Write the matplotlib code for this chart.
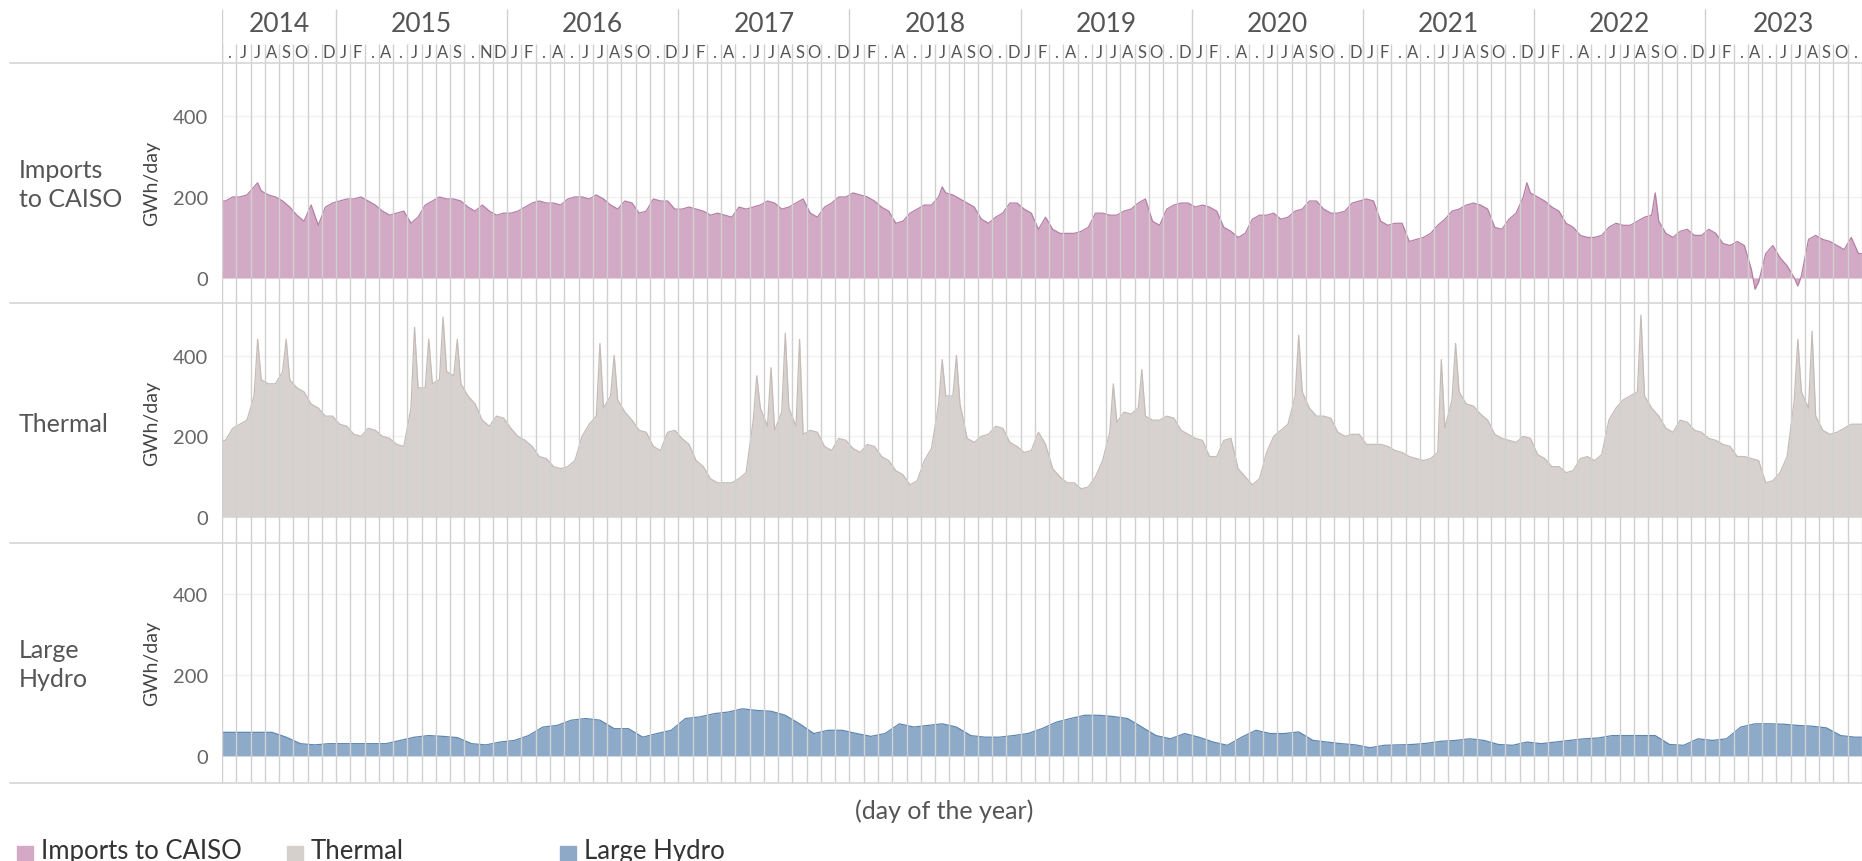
import numpy as np
import matplotlib
matplotlib.use("Agg")
import matplotlib.pyplot as plt
from matplotlib.lines import Line2D

plt.rcParams['font.family'] = ['Lato', 'DejaVu Sans']

# months from May 2014 to Nov 2023 (Tableau header letters, '.' where the label is cut)
years = [2014, 2015, 2016, 2017, 2018, 2019, 2020, 2021, 2022, 2023]
year_months = [8, 12, 12, 12, 12, 12, 12, 12, 12, 11]
month_letters = (['.', 'J', 'J', 'A', 'S', 'O', '.', 'D']
                 + ['J', 'F', '.', 'A', '.', 'J', 'J', 'A', 'S', '.', 'N', 'D']
                 + ['J', 'F', '.', 'A', '.', 'J', 'J', 'A', 'S', 'O', '.', 'D'] * 7
                 + ['J', 'F', '.', 'A', '.', 'J', 'J', 'A', 'S', 'O', '.'])

# GWh/day, two readings per month (first half, second half)
imports = [190, 200, 200, 205, 225, 215, 205, 200, 190, 175, 155, 140, 180, 130, 175, 185,
           190, 195, 195, 200, 190, 180, 165, 155, 160, 165, 135, 150, 180, 190, 200, 195,
           195, 190, 175, 165, 180, 165, 155, 160, 160, 165, 175, 185, 190, 185, 185, 180,
           195, 200, 200, 195, 205, 195, 180, 170, 190, 185, 160, 165, 195, 190, 190, 170,
           170, 175, 170, 165, 155, 160, 155, 150, 175, 170, 175, 180, 190, 185, 170, 175,
           185, 195, 160, 150, 175, 185, 200, 200, 210, 205, 200, 190, 175, 165, 135, 140,
           160, 170, 180, 180, 200, 210, 205, 195, 185, 175, 145, 135, 150, 160, 185, 185,
           170, 160, 120, 150, 120, 110, 110, 110, 115, 125, 160, 160, 155, 155, 165, 170,
           185, 195, 140, 130, 170, 180, 185, 185, 175, 180, 175, 165, 125, 115, 100, 110,
           145, 155, 155, 160, 145, 150, 165, 170, 190, 190, 170, 160, 160, 165, 185, 190,
           195, 190, 140, 130, 135, 135, 90, 95, 100, 110, 130, 145, 165, 170, 180, 185,
           180, 170, 125, 120, 145, 160, 200, 210, 200, 190, 175, 165, 135, 125, 105, 100,
           100, 105, 125, 135, 130, 130, 140, 150, 155, 140, 110, 100, 115, 120, 105, 105,
           120, 110, 85, 80, 90, 80, 20, -10, 60, 80, 50, 30, 0, 5, 95, 105,
           95, 90, 80, 70, 100, 60]

thermal = [190, 220, 230, 240, 300, 340, 330, 330, 360, 340, 320, 310, 280, 270, 250, 250,
           230, 225, 205, 200, 220, 215, 200, 195, 180, 175, 270, 320, 320, 330, 340, 360,
           350, 330, 300, 280, 240, 225, 250, 245, 220, 200, 190, 175, 150, 145, 125, 120,
           125, 140, 200, 230, 250, 270, 300, 290, 260, 240, 215, 210, 175, 165, 210, 215,
           195, 180, 140, 125, 95, 85, 85, 85, 95, 110, 240, 270, 225, 215, 260, 270,
           225, 205, 215, 210, 175, 165, 195, 190, 170, 160, 180, 175, 150, 140, 115, 105,
           80, 90, 140, 170, 280, 300, 300, 280, 195, 185, 200, 205, 225, 220, 185, 175,
           160, 165, 210, 180, 120, 100, 85, 85, 70, 75, 100, 140, 210, 235, 260, 255,
           270, 250, 240, 240, 250, 245, 215, 205, 195, 190, 150, 150, 190, 195, 120, 100,
           80, 95, 160, 200, 215, 230, 300, 310, 270, 250, 250, 245, 210, 200, 205, 205,
           180, 180, 180, 175, 165, 160, 150, 145, 140, 145, 160, 220, 290, 310, 280, 275,
           255, 240, 205, 195, 190, 185, 200, 195, 155, 145, 125, 125, 110, 115, 145, 150,
           140, 155, 240, 270, 290, 300, 310, 300, 270, 250, 220, 210, 240, 235, 215, 210,
           195, 190, 180, 175, 150, 150, 145, 140, 85, 90, 110, 150, 290, 310, 270, 250,
           215, 205, 210, 220, 230, 230]

# single-day extremes: month index -> value
import_spikes = {2: 235, 50: 225, 91: 235, 100: 210, 107: -28, 110: -20}
thermal_spikes = {2: 440, 4: 440, 13: 470, 14: 440, 15: 495, 16: 440, 26: 430, 27: 400,
                  37: 350, 38: 370, 39: 455, 40: 440, 50: 390, 51: 400, 62: 330, 64: 365,
                  75: 450, 85: 390, 86: 430, 99: 500, 110: 440, 111: 460}

# one reading per month
hydro = [58, 58, 58, 58, 46, 30, 27, 30, 30, 30, 30, 30, 38, 46, 50, 48, 45, 30, 27, 34,
         38, 50, 71, 75, 88, 92, 88, 67, 67, 46, 55, 63, 92, 96, 104, 108, 116, 112, 110, 100,
         79, 55, 63, 63, 55, 48, 55, 79, 71, 75, 79, 71, 50, 46, 46, 50, 55, 67, 83, 92,
         100, 100, 97, 92, 71, 50, 42, 55, 46, 34, 26, 46, 63, 55, 55, 59, 38, 34, 30, 27,
         20, 26, 27, 28, 31, 36, 38, 42, 38, 28, 26, 34, 30, 34, 38, 42, 44, 50, 50, 50,
         50, 28, 26, 42, 38, 42, 71, 79, 79, 78, 75, 73, 69, 50, 46]

n_months = len(month_letters)
W, H = 1862, 862


def series_xy(halves, spikes):
    x = list(np.arange(len(halves)) / 2 + 0.25)
    y = list(halves)
    for m, v in spikes.items():
        x.append(m + 0.5)
        y.append(v)
    order = np.argsort(x)
    x = np.array(x)[order]
    y = np.array(y)[order]
    x = np.concatenate([[0], x, [n_months]])
    y = np.concatenate([[y[0]], y, [y[-1]]])
    return x, y


def box(top, bottom):
    return [222 / W, 1 - bottom / H, 1640 / W, (bottom - top) / H]


fig = plt.figure(figsize=(W / 100, H / 100), dpi=100)
grid_col = '#d0d0d0'
text_col = '#555555'

# header with years and month letters
hdr = fig.add_axes(box(0, 64))
hdr.set_xlim(0, n_months)
hdr.set_ylim(64, 0)
hdr.axis('off')
start = 0
for yr, n in zip(years, year_months):
    hdr.vlines(start, 10, 64, color=grid_col, lw=1.0)
    hdr.text(start + n / 2, 25, str(yr), ha='center', va='center', fontsize=19, color=text_col)
    start += n
for i, lab in enumerate(month_letters):
    hdr.vlines(i, 45, 64, color=grid_col, lw=1.0)
    hdr.text(i + 0.5, 53, lab, ha='center', va='center', fontsize=12, color=text_col)

panels = [
    ('Imports\nto CAISO', series_xy(imports, import_spikes), '#d3aac6', '#b47fa5', (64, 304), -62, 531),
    ('Thermal', series_xy(thermal, thermal_spikes), '#d7d2cf', '#c5bbb7', (304, 544), -64, 530),
    ('Large\nHydro', (np.concatenate([[0], np.arange(n_months) + 0.5, [n_months]]),
                      np.concatenate([[hydro[0]], hydro, [hydro[-1]]])),
     '#8eaac9', '#5f86b0', (544, 784), -67, 525),
]

for label, (x, y), fill, edge, (top, bottom), y0, y1 in panels:
    ax = fig.add_axes(box(top, bottom))
    ax.set_xlim(0, n_months)
    ax.set_ylim(y0, y1)
    for v in (0, 200, 400):
        ax.axhline(v, color='#f1f1f1', lw=1.0, zorder=0)
    ax.fill_between(x, y, 0, color=fill, lw=0, zorder=1)
    ax.plot(x, y, color=edge, lw=0.9, zorder=2)
    for i in range(n_months + 1):
        ax.axvline(i, color=grid_col, lw=1.0, zorder=3)
    ax.set_yticks([0, 200, 400])
    ax.set_yticklabels(['0', '200', '400'], fontsize=14.5, color='#666666')
    ax.tick_params(axis='y', length=0, pad=10)
    ax.set_xticks([])
    for s in ax.spines.values():
        s.set_visible(False)
    ax.set_ylabel('GWh/day', fontsize=14, color='#444444', labelpad=9)
    fig.text(19 / W, 1 - ((top + bottom) / 2 + 1) / H, label, ha='left', va='center',
             fontsize=18, color=text_col, linespacing=1.3)

# row separators
for yy in (64, 304, 544, 784):
    fig.add_artist(Line2D([10 / W, 1], [1 - yy / H, 1 - yy / H], color='#d6d6d6', lw=1.2))

fig.text(944 / W, 1 - 811 / H, '(day of the year)', ha='center', va='center',
         fontsize=18, color=text_col)

legend = [('Imports to CAISO', '#d3a9c6', 17), ('Thermal', '#d6d0cc', 287), ('Large Hydro', '#8ea9c8', 560)]
for name, col, px in legend:
    fig.patches.append(plt.Rectangle((px / W, 1 - 862 / H), 16 / W, 15 / H, color=col,
                                     transform=fig.transFigure, figure=fig))
    fig.text((px + 24) / W, 1 - 852 / H, name, ha='left', va='center', fontsize=18.5, color='#333333')

fig.savefig('out.png', dpi=100)
